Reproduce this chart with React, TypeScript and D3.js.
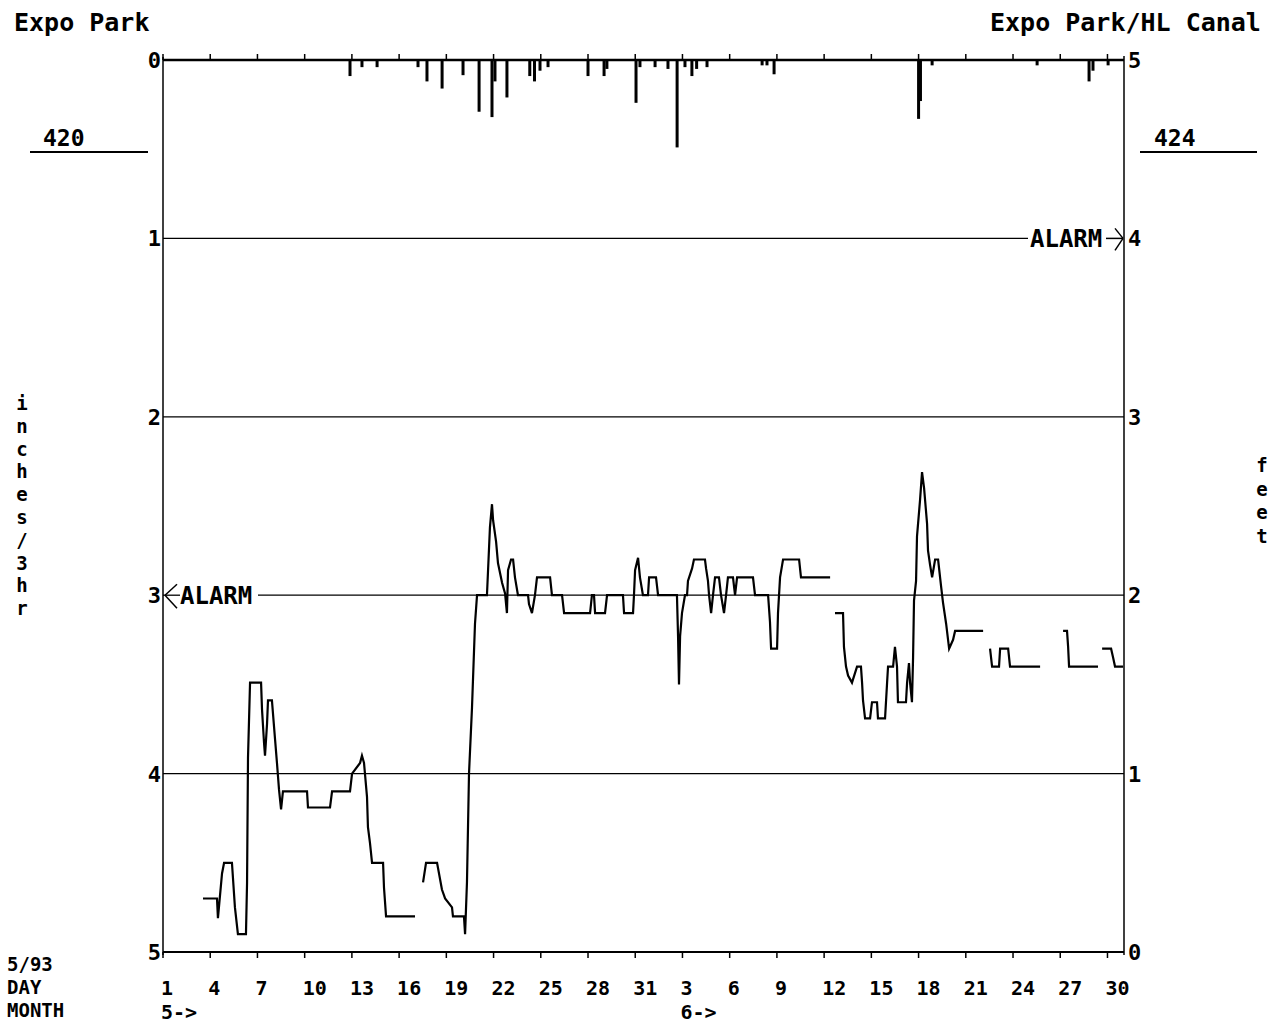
import React from "react";
import * as d3 from "d3";

// ---- data (day offsets counted from 1 May 1993 00:00) ----
const rainDay = [11.88, 12.64, 13.6, 16.2, 16.77, 17.73, 19.06, 20.08, 20.9, 21.09, 21.85, 23.3, 23.6, 23.95, 24.46, 27.0, 28.02, 28.2, 30.05, 30.3, 31.26, 32.08, 32.66, 33.16, 33.6, 33.9, 34.56, 38.06, 38.37, 38.82, 48.0, 48.12, 48.86, 55.53, 58.83, 59.08, 60.04];
const rainInches = [0.09, 0.04, 0.04, 0.04, 0.12, 0.16, 0.085, 0.29, 0.32, 0.12, 0.21, 0.09, 0.12, 0.06, 0.04, 0.09, 0.09, 0.05, 0.24, 0.04, 0.04, 0.05, 0.49, 0.04, 0.09, 0.05, 0.04, 0.03, 0.03, 0.08, 0.33, 0.23, 0.03, 0.03, 0.12, 0.06, 0.03];

const levelDay: (number | null)[] = [
  2.54, 3.43, 3.49, 3.75, 3.88, 4.38, 4.57, 4.76, 5.27, 5.34, 5.4, 5.53, 6.23, 6.29, 6.42, 6.48, 6.61, 6.67, 6.92, 7.12, 7.24, 7.37, 7.5, 7.62, 9.15, 9.21, 10.61, 10.74, 11.88, 12.01, 12.52, 12.64, 12.77, 12.96, 13.02, 13.15, 13.28, 13.98, 14.04, 14.17, 16.01,
  null,
  16.52, 16.71, 17.41, 17.72, 17.92, 18.36, 18.42, 19.12, 19.19, 19.31, 19.44, 19.63, 19.82, 19.95, 20.58, 20.65, 20.77, 20.9, 20.97, 21.16, 21.28, 21.54, 21.73, 21.85, 21.92, 22.11, 22.24, 22.36, 22.55, 23.19, 23.25, 23.44, 23.63, 23.76, 24.59, 24.71, 25.35, 25.48, 27.13, 27.25, 27.38, 27.45, 28.08, 28.21, 29.22, 29.29, 29.86, 29.92, 29.99, 30.18, 30.3, 30.49, 30.81, 30.88, 31.32, 31.45, 32.65, 32.72, 32.78, 32.85, 32.97, 33.16, 33.29, 33.35, 33.61, 33.73, 34.43, 34.5, 34.62, 34.69, 34.82, 34.94, 35.07, 35.32, 35.45, 35.64, 35.77, 35.89, 36.21, 36.34, 36.47, 37.48, 37.61, 38.44, 38.56, 38.63, 39.01, 39.07, 39.2, 39.39, 40.41, 40.53, 42.38,
  null,
  42.69, 43.2, 43.26, 43.39, 43.52, 43.77, 44.09, 44.34, 44.41, 44.47, 44.6, 44.92, 45.04, 45.36, 45.42, 45.87, 46.0, 46.06, 46.38, 46.5, 46.63, 46.69, 47.2, 47.27, 47.39, 47.46, 47.58, 47.65, 47.71, 47.84, 47.9, 48.09, 48.22, 48.35, 48.54, 48.6, 48.73, 48.86, 49.05, 49.24, 49.43, 49.55, 49.75, 49.94, 50.19, 50.32, 52.1,
  null,
  52.54, 52.67, 53.11, 53.18, 53.69, 53.81, 55.72,
  null,
  57.18, 57.43, 57.5, 57.56, 59.4,
  null,
  59.66, 60.23, 60.36, 60.48, 60.99,
];
const levelFeet: (number | null)[] = [
  0.3, 0.3, 0.19, 0.44, 0.5, 0.5, 0.25, 0.1, 0.1, 0.39, 1.09, 1.51, 1.51, 1.36, 1.17, 1.1, 1.28, 1.41, 1.41, 1.19, 1.06, 0.91, 0.8, 0.9, 0.9, 0.81, 0.81, 0.9, 0.9, 1.0, 1.06, 1.1, 1.06, 0.87, 0.7, 0.61, 0.5, 0.5, 0.36, 0.2, 0.2,
  null,
  0.39, 0.5, 0.5, 0.35, 0.3, 0.25, 0.2, 0.2, 0.1, 0.39, 1.0, 1.37, 1.84, 2.0, 2.0, 2.14, 2.38, 2.51, 2.42, 2.3, 2.18, 2.07, 2.01, 1.9, 2.14, 2.2, 2.2, 2.1, 2.0, 2.0, 1.95, 1.9, 2.0, 2.1, 2.1, 2.0, 2.0, 1.9, 1.9, 2.0, 2.0, 1.9, 1.9, 2.0, 2.0, 1.9, 1.9, 2.0, 2.14, 2.21, 2.1, 2.0, 2.0, 2.1, 2.1, 2.0, 2.0, 1.77, 1.5, 1.77, 1.9, 2.0, 2.0, 2.08, 2.15, 2.2, 2.2, 2.15, 2.08, 2.0, 1.9, 2.0, 2.1, 2.1, 2.0, 1.9, 2.0, 2.1, 2.1, 2.0, 2.1, 2.1, 2.0, 2.0, 1.85, 1.7, 1.7, 1.9, 2.1, 2.2, 2.2, 2.1, 2.1,
  null,
  1.9, 1.9, 1.71, 1.6, 1.55, 1.51, 1.6, 1.6, 1.51, 1.41, 1.31, 1.31, 1.4, 1.4, 1.31, 1.31, 1.51, 1.6, 1.6, 1.71, 1.6, 1.4, 1.4, 1.51, 1.62, 1.51, 1.4, 1.65, 1.97, 2.08, 2.33, 2.53, 2.69, 2.6, 2.4, 2.25, 2.17, 2.1, 2.2, 2.2, 2.05, 1.96, 1.84, 1.7, 1.75, 1.8, 1.8,
  null,
  1.7, 1.6, 1.6, 1.7, 1.7, 1.6, 1.6,
  null,
  1.8, 1.8, 1.71, 1.6, 1.6,
  null,
  1.7, 1.7, 1.65, 1.6, 1.6,
];

const dayTickLabels = ["1", "4", "7", "10", "13", "16", "19", "22", "25", "28", "31", "3", "6", "9", "12", "15", "18", "21", "24", "27", "30"];
const leftAxisLabels = ["0", "1", "2", "3", "4", "5"];
const rightAxisLabels = ["0", "1", "2", "3", "4", "5"];
const monthStartDay = [0, 33];
const monthLabels = ["5->", "6->"];
const leftUnitChars = "inches/3hr".split("");
const rightUnitChars = "feet".split("");
const cornerLines = ["5/93", "DAY", "MONTH"];

const FONT = "'DejaVu Sans Mono', monospace";

export default function App() {
  const L = 163, R = 1124, T = 60, B = 952;
  const x = d3.scaleLinear().domain([0, 61.05]).range([L, R]);
  const yFeet = d3.scaleLinear().domain([0, 5]).range([B, T]);
  const yRain = d3.scaleLinear().domain([0, 5]).range([T, B]);
  const tickDays = d3.range(0, 61, 3);

  const levelPts = levelDay.map((d, i) => ({ d, f: levelFeet[i] }));
  const line = d3
    .line<{ d: number | null; f: number | null }>()
    .defined((p) => p.d != null && p.f != null)
    .x((p) => x(p.d as number))
    .y((p) => yFeet(p.f as number));

  const gridVals = [1, 2, 3, 4];
  const alarmLeftY = yRain(3);
  const alarmRightY = yFeet(4);

  return (
    <svg
      width={1278}
      height={1023}
      style={{ position: "absolute", left: 0, top: 0, background: "#fff" }}
      fontFamily={FONT}
      fontWeight="bold"
    >
      <rect width={1278} height={1023} fill="#fff" />
      {/* titles */}
      <text x={14} y={31} fontSize={25}>Expo Park</text>
      <text x={990} y={31} fontSize={25}>Expo Park/HL Canal</text>
      <text x={43} y={146} fontSize={23}>420</text>
      <line x1={30} x2={148} y1={152} y2={152} stroke="#000" strokeWidth={2} />
      <text x={1154} y={146} fontSize={23}>424</text>
      <line x1={1140} x2={1257} y1={152} y2={152} stroke="#000" strokeWidth={2} />

      {/* gridlines */}
      {gridVals.map((v) => {
        const y = yRain(v);
        if (v === 1) {
          return <line key={v} x1={L} x2={1028} y1={y} y2={y} stroke="#000" strokeWidth={1.3} />;
        }
        if (v === 3) {
          return (
            <g key={v}>
              <line x1={L} x2={180} y1={y} y2={y} stroke="#000" strokeWidth={1.3} />
              <line x1={258} x2={R} y1={y} y2={y} stroke="#000" strokeWidth={1.3} />
            </g>
          );
        }
        return <line key={v} x1={L} x2={R} y1={y} y2={y} stroke="#000" strokeWidth={1.3} />;
      })}

      {/* alarm markers */}
      <g stroke="#000" strokeWidth={1.5} fill="none">
        <line x1={L + 2} y1={alarmLeftY} x2={L + 14} y2={alarmLeftY - 11} />
        <line x1={L + 2} y1={alarmLeftY} x2={L + 14} y2={alarmLeftY + 13} />
        <line x1={1106} x2={R - 1} y1={alarmRightY} y2={alarmRightY} />
        <line x1={R - 1} y1={alarmRightY} x2={R - 9} y2={alarmRightY - 10} />
        <line x1={R - 1} y1={alarmRightY} x2={R - 9} y2={alarmRightY + 12} />
      </g>
      <text x={180} y={alarmLeftY} dy="0.36em" fontSize={24}>ALARM</text>
      <text x={1030} y={alarmRightY} dy="0.36em" fontSize={24}>ALARM</text>

      {/* axes frame */}
      <line x1={L} x2={R} y1={T} y2={T} stroke="#000" strokeWidth={2.5} />
      <line x1={L} x2={R} y1={B} y2={B} stroke="#000" strokeWidth={2} />
      <line x1={L} x2={L} y1={T - 3} y2={B + 3} stroke="#000" strokeWidth={1.5} />
      <line x1={R} x2={R} y1={T - 4} y2={B + 3} stroke="#000" strokeWidth={1.5} />

      {/* day ticks top & bottom */}
      {tickDays.map((d, i) => (
        <g key={d}>
          <line x1={x(d)} x2={x(d)} y1={T} y2={T - 6} stroke="#000" strokeWidth={1.5} />
          <line x1={x(d)} x2={x(d)} y1={B} y2={B + 6} stroke="#000" strokeWidth={1.5} />
          <text x={x(d) - 2} y={995} fontSize={20}>{dayTickLabels[i]}</text>
        </g>
      ))}
      {monthStartDay.map((d, i) => (
        <text key={i} x={x(d) - 2} y={1019} fontSize={20}>{monthLabels[i]}</text>
      ))}

      {/* y axis labels */}
      {leftAxisLabels.map((lab, i) => (
        <text key={i} x={L - 2} y={yRain(i)} dy="0.36em" textAnchor="end" fontSize={22}>{lab}</text>
      ))}
      {rightAxisLabels.map((lab, i) => (
        <text key={i} x={R + 4} y={yFeet(i)} dy="0.36em" fontSize={22}>{lab}</text>
      ))}

      {/* unit labels, stacked vertically */}
      {leftUnitChars.map((c, i) => (
        <text key={i} x={22} y={410 + i * 22.8} fontSize={19} textAnchor="middle">{c}</text>
      ))}
      {rightUnitChars.map((c, i) => (
        <text key={i} x={1262} y={472 + i * 23.5} fontSize={19} textAnchor="middle">{c}</text>
      ))}

      {/* bottom left legend */}
      {cornerLines.map((t, i) => (
        <text key={i} x={7} y={971 + i * 23} fontSize={19}>{t}</text>
      ))}

      {/* rainfall bars hanging from top */}
      {rainDay.map((d, i) => (
        <rect
          key={i}
          x={x(d) - 1.5}
          y={yRain(0)}
          width={3}
          height={yRain(rainInches[i]) - yRain(0)}
          fill="#000"
        />
      ))}

      {/* water level */}
      <path d={line(levelPts) || ""} fill="none" stroke="#000" strokeWidth={2.2} strokeLinejoin="miter" />
    </svg>
  );
}
